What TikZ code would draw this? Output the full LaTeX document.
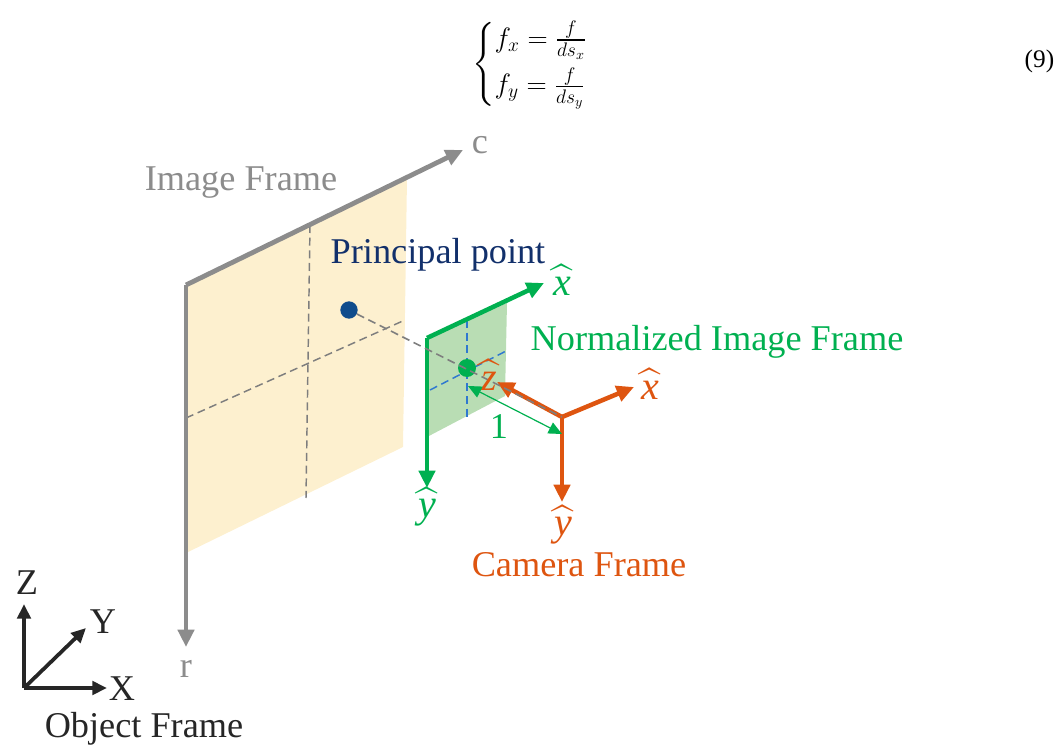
\documentclass[tikz,border=0pt]{standalone}
\usepackage{fix-cm}
\usepackage{amsmath,amssymb}
\usepackage{fontspec}
\setmainfont{Liberation Serif}
\usepackage[dvipsnames]{xcolor}
\usetikzlibrary{arrows.meta,positioning}
\definecolor{imgGray}{HTML}{8C8C8C}
\definecolor{imgFill}{HTML}{FDF0CF}
\definecolor{normGreen}{HTML}{00B050}
\definecolor{normFill}{HTML}{B9DDB4}
\definecolor{camOrange}{HTML}{DE5510}
\definecolor{ptBlue}{HTML}{0F4C8C}
\definecolor{ptNavy}{HTML}{12306B}
\definecolor{dashBlue}{HTML}{2F78D0}
\newcommand{\lblsize}{\fontsize{27.2}{30}\selectfont}
\newcommand{\hatvar}[1]{$\widehat{\text{\itshape #1}}$}

\begin{document}
\begin{tikzpicture}[x=0.75pt, y=-0.75pt,
      lbl/.style={font=\lblsize, inner sep=0pt, anchor=center},
      hatlbl/.style={font=\fontsize{30}{32}\selectfont, inner sep=0pt, anchor=center},
      axis/.style={-{Triangle[length=13pt, width=12pt]}, line width=3.4pt},
      thin axis/.style={-{Triangle[length=11pt, width=10pt]}, line width=2.8pt},
      guide/.style={dashed, dash pattern=on 6pt off 3.5pt, line width=1.1pt},
      dot/.style={circle, inner sep=0pt, minimum size=13pt}]
    \useasboundingbox (0,0) rectangle (1056,745);
    % equation
    \node[inner sep=0pt, font=\fontsize{21}{25}\selectfont] (eq) at (544,64)
      {$\begin{cases} f_x = \frac{f}{ds_x}\\[5pt] f_y = \frac{f}{ds_y}\end{cases}$};
    \node[inner sep=0pt, font=\fontsize{19}{22}\selectfont] (eqno) at (1039.5,61) {(9)};
    % image frame
    \coordinate (io) at (186,285);
    \fill[imgFill] (io) -- (407,178) -- (403,447) -- (186,553) -- cycle;
    \coordinate (ivt) at (310,225);
    \coordinate (ivb) at (306,498);
    \coordinate (ihl) at (186,418);
    \coordinate (ihr) at (405,320);
    \draw[guide, imgGray!90!black] (ivt) -- (ivb);
    \draw[guide, imgGray!90!black] (ihl) -- (ihr);
    \coordinate (cend) at (463,150);
    \coordinate (rend) at (186,647);
    \draw[axis, imgGray, line width=3.6pt] (io) -- (cend);
    \draw[axis, imgGray, line width=3.6pt] (io) -- (rend);
    \node[lbl, text=imgGray] (c) at (480,145) {c};
    \node[lbl, text=imgGray] (r) at (186,669) {r};
    \node[lbl, text=imgGray] (imglbl) at (241,183) {Image Frame};
    % normalized frame
    \coordinate (no) at (427,338);
    \fill[normFill] (no) -- (507,303) -- (505,396) -- (427,437) -- cycle;
    \coordinate (nvt) at (467,320);
    \coordinate (nvb) at (467,418);
    \coordinate (nhl) at (430,390);
    \coordinate (nhr) at (508,350);
    \draw[guide, dashBlue] (nvt) -- (nvb);
    \draw[guide, dashBlue] (nhl) -- (nhr);
    \node[dot, fill=normGreen, minimum size=13.5pt] (npt) at (467,368) {};
    \coordinate (nx) at (544,283);
    \coordinate (ny) at (427,488);
    \draw[axis, normGreen] (no) -- (nx);
    \draw[axis, normGreen] (no) -- (ny);
    \node[hatlbl, text=normGreen] (nxl) at (562,280) {\hatvar{x}};
    \node[hatlbl, text=normGreen] (nyl) at (427,507) {\hatvar{y}};
    \node[lbl, text=normGreen] (nlbl) at (717,342) {Normalized Image Frame};
    % principal point
    \node[dot, fill=ptBlue] (ppt) at (349,310) {};
    \node[lbl, text=ptNavy] (plbl) at (438,255) {Principal point};
    % camera frame
    \coordinate (co) at (562,417);
    \coordinate (cz) at (497,382);
    \coordinate (cx) at (634,387);
    \coordinate (cy) at (562,502);
    \draw[axis, camOrange] (co) -- (cz);
    \draw[axis, camOrange] (co) -- (cx);
    \draw[axis, camOrange] (co) -- (cy);
    \draw[guide, imgGray!90!black, line width=1.2pt] (ppt) -- (co);
    \node[hatlbl, text=camOrange] (czl) at (489,375) {\hatvar{z}};
    \node[hatlbl, text=camOrange] (cxl) at (650,384) {\hatvar{x}};
    \node[hatlbl, text=camOrange] (cyl) at (563,525) {\hatvar{y}};
    \node[lbl, text=camOrange] (clbl) at (579,565) {Camera Frame};
    % unit distance
    \coordinate (ua) at (468,386);
    \coordinate (ub) at (562,434);
    \draw[{Triangle[length=10pt, width=9pt]}-{Triangle[length=10pt, width=9pt]}, normGreen, line width=0.9pt] (ua) -- (ub);
    \node[lbl, text=normGreen] (one) at (499,427) {1};
    % object frame
    \coordinate (oo) at (24,688);
    \coordinate (oz) at (24,604);
    \coordinate (oy) at (86,628);
    \coordinate (ox) at (107,688);
    \draw[thin axis, black!85] (oo) -- (oz);
    \draw[thin axis, black!85] (oo) -- (oy);
    \draw[thin axis, black!85] (oo) -- (ox);
    \node[lbl, text=black!85] (zl) at (27,583) {Z};
    \node[lbl, text=black!85] (yl) at (103,622) {Y};
    \node[lbl, text=black!85] (xl) at (122,689) {X};
    \node[lbl, text=black!85] (olbl) at (144,729) {Object Frame};
  \end{tikzpicture}
\end{document}
